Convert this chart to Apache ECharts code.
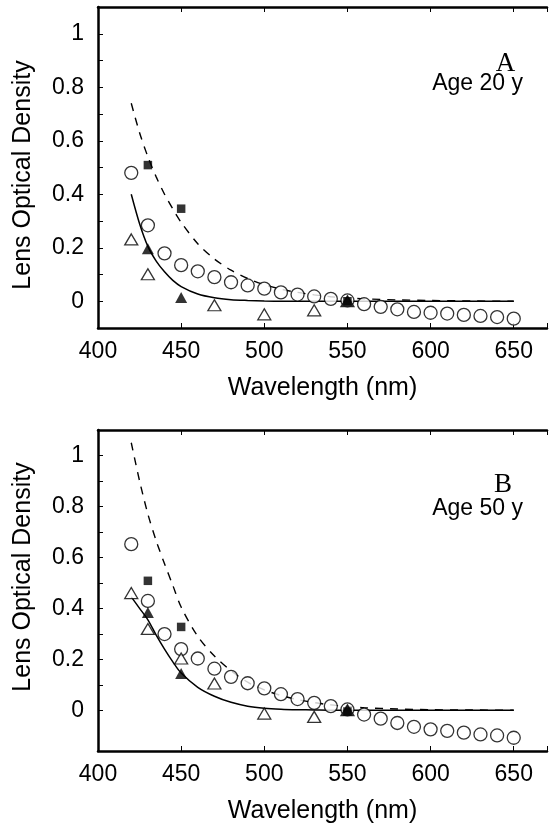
<!DOCTYPE html>
<html><head><meta charset="utf-8">
<script src="https://cdn.jsdelivr.net/npm/echarts@6/dist/echarts.min.js"></script>
<style>html,body{margin:0;padding:0;background:#fff}#c{width:550px;height:830px}</style>
</head><body><div id="c"></div>
<script>
// ---------- data ----------
const xTickValues = [400, 450, 500, 550, 600, 650];
const yLabelValues = [0, 0.2, 0.4, 0.6, 0.8, 1];
const yTickValues = [0, 0.1, 0.2, 0.3, 0.4, 0.5, 0.6, 0.7, 0.8, 0.9, 1.0];

const circleWl = [420,430,440,450,460,470,480,490,500,510,520,530,540,550,560,570,580,590,600,610,620,630,640,650];
const circlesA = [0.48,0.284,0.179,0.135,0.112,0.09,0.071,0.059,0.047,0.033,0.025,0.018,0.009,0.003,-0.011,-0.021,-0.03,-0.04,-0.043,-0.046,-0.051,-0.055,-0.059,-0.065];
const circlesB = [0.652,0.429,0.299,0.24,0.203,0.163,0.131,0.106,0.086,0.063,0.044,0.029,0.016,0.003,-0.017,-0.033,-0.05,-0.065,-0.075,-0.081,-0.088,-0.095,-0.099,-0.108];

const squareWl = [430, 450, 550];
const squaresA = [0.509, 0.346, 0.0];
const squaresB = [0.508, 0.327, -0.005];

const filledTriWl = [430, 450, 550];
const filledTriA = [0.196, 0.014, 0.0];
const filledTriB = [0.384, 0.144, 0.0];

const openTriWlA = [420, 430, 470, 500, 530, 550];
const openTriA = [0.231, 0.101, -0.015, -0.049, -0.034, 0.0];
const openTriWlB = [420, 430, 450, 470, 500, 530, 550];
const openTriB = [0.46, 0.319, 0.203, 0.105, -0.013, -0.026, 0.0];

const fitWl = [420,425,430,435,440,445,450,460,470,480,490,500,510,520,530,540,550,560,580,600,625,650];
const dashedA = [0.74,0.63,0.54,0.465,0.40,0.345,0.295,0.215,0.158,0.116,0.085,0.062,0.045,0.033,0.024,0.017,0.012,0.009,0.005,0.003,0.001,0.0];
const solidA  = [0.40,0.29,0.205,0.15,0.11,0.078,0.055,0.027,0.013,0.006,0.003,0.001,0.0,0.0,0.0,0.0,0.0,0.0,0.0,0.0,0.0,0.0];
const dashedB = [1.05,0.90,0.77,0.665,0.575,0.49,0.405,0.29,0.213,0.155,0.11,0.08,0.058,0.042,0.03,0.021,0.015,0.01,0.005,0.002,0.001,0.0];
const solidB  = [0.445,0.40,0.355,0.295,0.24,0.19,0.146,0.09,0.055,0.031,0.016,0.008,0.004,0.002,0.001,0.0,0.0,0.0,0.0,0.0,0.0,0.0];

const panelLetters = ['A', 'B'];
const panelAges = ['Age 20 y', 'Age 50 y'];
const xName = 'Wavelength (nm)';
const yName = 'Lens Optical Density';

// ---------- chart ----------
const SANS = '"Liberation Sans", Arial, Helvetica, sans-serif';
const SERIF = '"Liberation Serif", "Times New Roman", serif';
const zip = (a, b) => a.map((v, i) => [v, b[i]]);

const grids = [
  { left: 98, top: 7, width: 459, height: 321 },
  { left: 98, top: 430, width: 459, height: 321 }
];
const yRanges = [[-0.1, 1.1], [-0.16, 1.1]];

const lineW = 2.5;
const xAxes = [], yAxes = [];
for (let g = 0; g < 2; g++) {
  const base = {
    gridIndex: g, type: 'value', min: 400, max: 670, interval: 50,
    axisLine: { show: true, onZero: false, lineStyle: { color: '#000', width: lineW } },
    axisTick: { show: true, inside: true, length: 5, lineStyle: { color: '#000', width: 1 } },
    splitLine: { show: false }
  };
  xAxes.push(Object.assign({}, base, {
    position: 'bottom',
    name: xName, nameLocation: 'middle', nameGap: 48,
    nameTextStyle: { fontFamily: SANS, fontSize: 25, color: '#000' },
    axisLabel: {
      show: true, margin: 12, fontFamily: SANS, fontSize: 23, color: '#000',
      formatter: v => (xTickValues.indexOf(Math.round(v)) >= 0 && Math.abs(v - Math.round(v)) < 1e-6) ? String(Math.round(v)) : ''
    }
  }));
  xAxes.push(Object.assign({}, base, {
    position: 'top', axisLabel: { show: false }
  }));
  yAxes.push({
    gridIndex: g, type: 'value', min: yRanges[g][0], max: yRanges[g][1],
    axisLine: { show: true, onZero: false, lineStyle: { color: '#000', width: lineW } },
    axisTick: { show: true, inside: true, length: 5, lineStyle: { color: '#000', width: 1 }, customValues: yTickValues },
    axisLabel: {
      show: true, margin: 14, fontFamily: SANS, fontSize: 23, color: '#000',
      customValues: yLabelValues,
      formatter: v => {
        const r = Math.round(v * 10) / 10;
        return yLabelValues.some(t => Math.abs(t - v) < 1e-6) ? String(r) : '';
      }
    },
    splitLine: { show: false }
  });
}

const series = [];
function addPanel(g, d) {
  const xi = g * 2, yi = g;
  const common = { xAxisIndex: xi, yAxisIndex: yi, animation: false, emphasis: { disabled: true } };
  series.push(Object.assign({}, common, {
    type: 'line', data: zip(fitWl, d.dashed), smooth: 0.3, showSymbol: false, symbol: 'none', z: 1,
    lineStyle: { color: '#000', width: 1.4, type: [8, 7] }
  }));
  series.push(Object.assign({}, common, {
    type: 'line', data: zip(fitWl, d.solid), smooth: 0.3, showSymbol: false, symbol: 'none', z: 1,
    lineStyle: { color: '#000', width: 1.5 }
  }));
  series.push(Object.assign({}, common, {
    type: 'scatter', data: zip(circleWl, d.circles), symbol: 'circle', symbolSize: 13, z: 3,
    itemStyle: { color: '#fff', borderColor: '#000', borderWidth: 1.3 }
  }));
  series.push(Object.assign({}, common, {
    type: 'scatter', data: zip(d.openTriWl, d.openTri), symbol: 'triangle', symbolSize: [13, 11], z: 4,
    itemStyle: { color: '#fff', borderColor: '#000', borderWidth: 1.3 }
  }));
  series.push(Object.assign({}, common, {
    type: 'scatter', data: zip(filledTriWl, d.filledTri), symbol: 'triangle', symbolSize: [12, 11], z: 5,
    itemStyle: { color: '#000' }
  }));
  series.push(Object.assign({}, common, {
    type: 'scatter', data: zip(squareWl, d.squares), symbol: 'rect', symbolSize: 8.5, z: 6,
    itemStyle: { color: '#000' }
  }));
}
addPanel(0, { dashed: dashedA, solid: solidA, circles: circlesA, openTriWl: openTriWlA, openTri: openTriA, filledTri: filledTriA, squares: squaresA });
addPanel(1, { dashed: dashedB, solid: solidB, circles: circlesB, openTriWl: openTriWlB, openTri: openTriB, filledTri: filledTriB, squares: squaresB });

function txt(text, x, y, font, align, rotation) {
  return {
    type: 'text', x: x, y: y, rotation: rotation || 0, silent: true,
    style: { text: text, font: font, fill: '#000', align: align, verticalAlign: 'middle', textAlign: align, textVerticalAlign: 'middle' }
  };
}
const graphics = [
  txt(panelLetters[0], 505.5, 64, '27px ' + SERIF, 'center'),
  txt(panelAges[0], 523, 83.5, '23px ' + SANS, 'right'),
  txt(panelLetters[1], 503, 485, '27px ' + SERIF, 'center'),
  txt(panelAges[1], 523, 508.5, '23px ' + SANS, 'right'),
  txt(yName, 23, 175, '25px ' + SANS, 'center', Math.PI / 2),
  txt(yName, 23, 577, '25px ' + SANS, 'center', Math.PI / 2)
];

const chart = echarts.init(document.getElementById('c'), null, { renderer: 'canvas' });
chart.setOption({
  backgroundColor: '#fff',
  animation: false,
  grid: grids,
  xAxis: xAxes,
  yAxis: yAxes,
  series: series,
  graphic: graphics
});
</script>
</body></html>
